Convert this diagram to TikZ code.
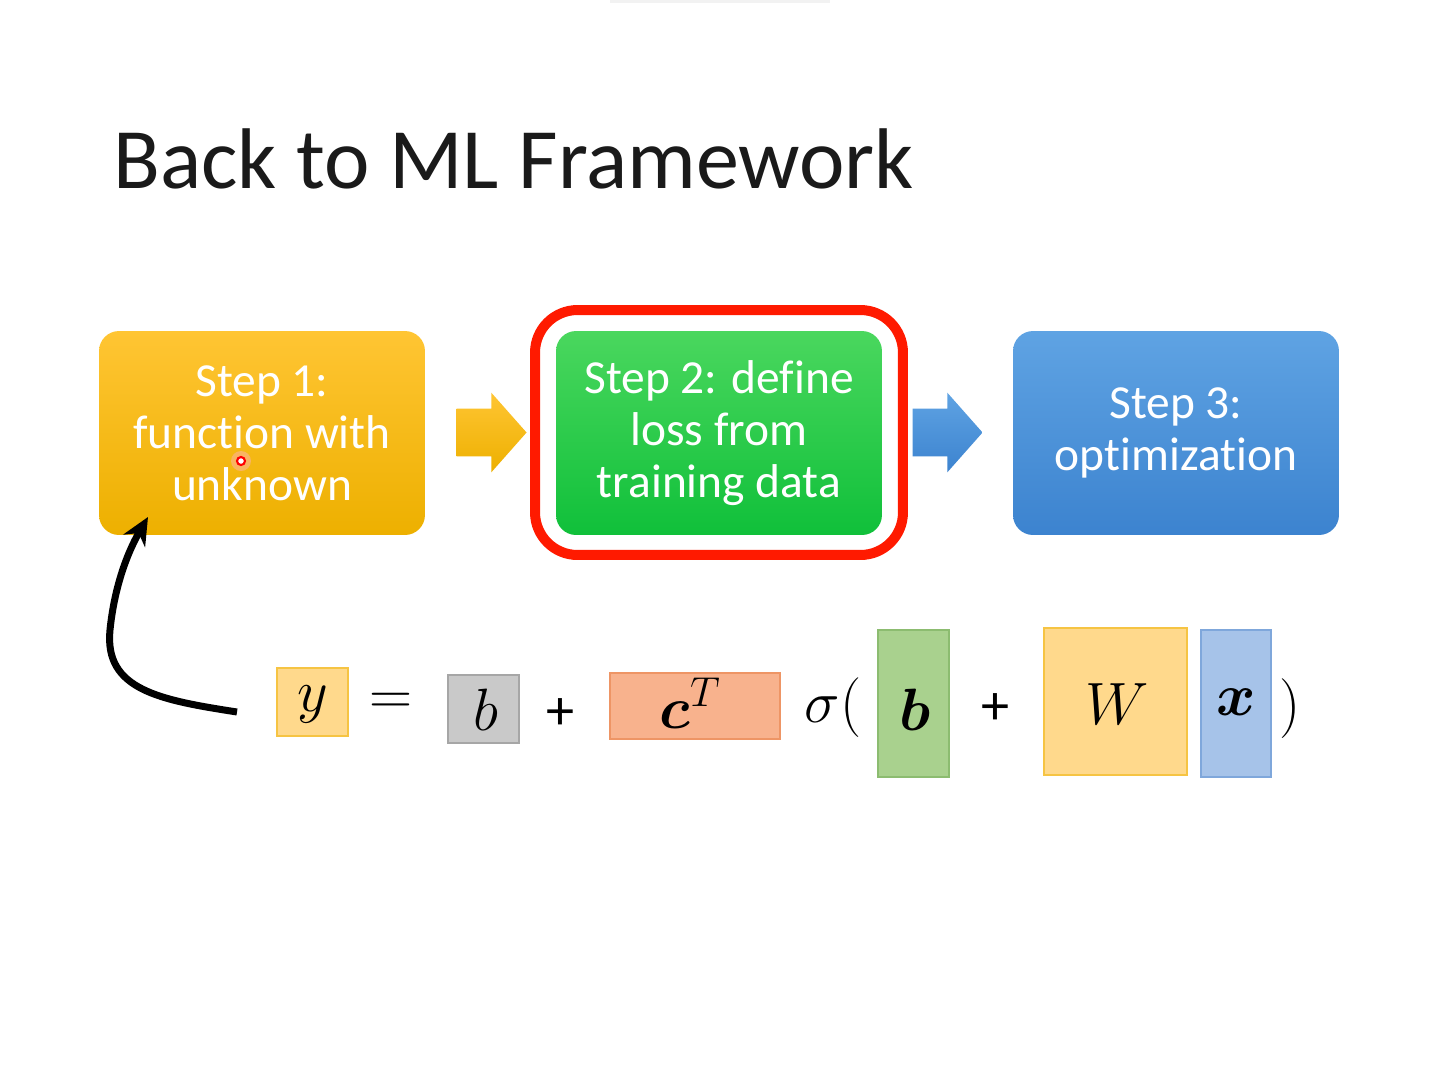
\RequirePackage{fix-cm}
\documentclass[tikz,border=0pt]{standalone}
\usepackage{fontspec}
\setmainfont{Carlito}[Ligatures=NoCommon, Contextuals=NoAlternate]
\usepackage{amsmath}
\usepackage{bm}
\usetikzlibrary{shapes.arrows,arrows.meta}

\definecolor{orTop}{HTML}{FFC533}
\definecolor{orBot}{HTML}{EDB000}
\definecolor{grTop}{HTML}{4AD75E}
\definecolor{grBot}{HTML}{10C03A}
\definecolor{blTop}{HTML}{5FA3E3}
\definecolor{blBot}{HTML}{3C83CF}
\definecolor{hlRed}{HTML}{FF1A00}
\definecolor{titleInk}{HTML}{1A1A1A}
\definecolor{yFill}{HTML}{FFD98C}
\definecolor{yLine}{HTML}{F6C443}
\definecolor{gFill}{HTML}{C9C9C9}
\definecolor{gLine}{HTML}{A6A6A6}
\definecolor{sFill}{HTML}{F8B28D}
\definecolor{sLine}{HTML}{EE9565}
\definecolor{vFill}{HTML}{A9D18E}
\definecolor{vLine}{HTML}{8CBC70}
\definecolor{bFill}{HTML}{A6C3E9}
\definecolor{bLine}{HTML}{7FA7DB}

\begin{document}
\begin{tikzpicture}[x=0.02cm,y=-0.02cm,
  stepbox/.style={rounded corners=0.4cm, minimum width=6.52cm, minimum height=4.08cm,
    align=center, text=white, font=\fontsize{27}{29.5}\selectfont, inner sep=0pt},
  blockarrow/.style={single arrow, single arrow head extend=0.32cm,
    single arrow tip angle=97, minimum height=1.4cm, inner xsep=0pt, inner ysep=0.47cm},
  mbox/.style={line width=0.7pt, inner sep=0pt},
  mathtxt/.style={font=\fontsize{34}{40}\selectfont, inner sep=0pt},
  plus/.style={font=\fontsize{32}{38}\selectfont, inner sep=0pt}]

% canvas
\useasboundingbox (0,0) rectangle (1438,1080);
\fill[white] (0,0) rectangle (1438,1080);
\fill[black!5] (610,0) rectangle (830,3);

% title
\node[anchor=base west, inner sep=0pt, text=titleInk,
      font=\fontsize{49}{56}\selectfont] (title) at (113,188) {Back to ML Framework};

% the three steps
\node[stepbox, top color=orTop, bottom color=orBot] (s1) at (262,433)
  {Step 1:\\function with\\unknown};
\node[stepbox, top color=grTop, bottom color=grBot] (s2) at (719,433)
  {Step 2: define\\loss from\\training data};
\node[stepbox, top color=blTop, bottom color=blBot] (s3) at (1176,433)
  {Step 3:\\optimization};

% highlight ring around step 2
\node[draw=hlRed, line width=0.2cm, rounded corners=0.85cm,
      minimum width=7.36cm, minimum height=4.9cm] (hl) at (719,432.5) {};

% block arrows between steps
\node[blockarrow, anchor=tip, top color=orTop, bottom color=orBot] (a1) at (527,432.5) {};
\node[blockarrow, anchor=tip, top color=blTop, bottom color=blBot] (a2) at (983,432.5) {};

% pointer mark
\fill[red!30, opacity=0.5] (241,461) circle (0.2cm);
\node[circle, draw=red, fill=white, line width=1.2pt, minimum size=0.16cm, inner sep=0pt] (dot) at (241,461) {};

% the equation
\node[mbox, fill=yFill, draw=yLine, minimum width=1.42cm, minimum height=1.36cm] (ybox) at (312.5,702) {};
\node[mathtxt] (y) at (313,704) {$y$};
\node[mathtxt] (eq) at (391,704) {$=$};
\node[mbox, fill=gFill, draw=gLine, minimum width=1.42cm, minimum height=1.36cm] (bbox) at (483.5,709) {};
\node[mathtxt] (b) at (486,710) {$b$};
\node[plus] (p1) at (560,714) {+};
\node[mbox, fill=sFill, draw=sLine, minimum width=3.4cm, minimum height=1.32cm] (cbox) at (695,706) {};
\node[mathtxt] (c) at (690,703) {$\bm{c}^{T}$};
\node[mathtxt] (sig) at (833,708) {$\sigma($};
\node[mbox, fill=vFill, draw=vLine, minimum width=1.42cm, minimum height=2.94cm] (vbox) at (913.5,703.5) {};
\node[mathtxt] (bv) at (915,710) {$\bm{b}$};
\node[plus] (p2) at (995,709) {+};
\node[mbox, fill=yFill, draw=yLine, minimum width=2.86cm, minimum height=2.94cm] (wbox) at (1115.5,701.5) {};
\node[mathtxt] (w) at (1117,704) {$W$};
\node[mbox, fill=bFill, draw=bLine, minimum width=1.4cm, minimum height=2.94cm] (xbox) at (1236,703.5) {};
\node[mathtxt] (x) at (1236,702) {$\bm{x}$};
\node[mathtxt] (rp) at (1290,709) {$)$};

% curved arrow from the equation back to step 1
\coordinate (tail) at (237,712);
\coordinate (tip) at (148,517);
\draw[line width=0.14cm, -{Stealth[length=0.55cm, width=0.5cm]}]
  (tail) .. controls (160,700) and (104,690) .. (110,630)
         .. controls (114,590) and (126,555) .. (tip);
\end{tikzpicture}
\end{document}
